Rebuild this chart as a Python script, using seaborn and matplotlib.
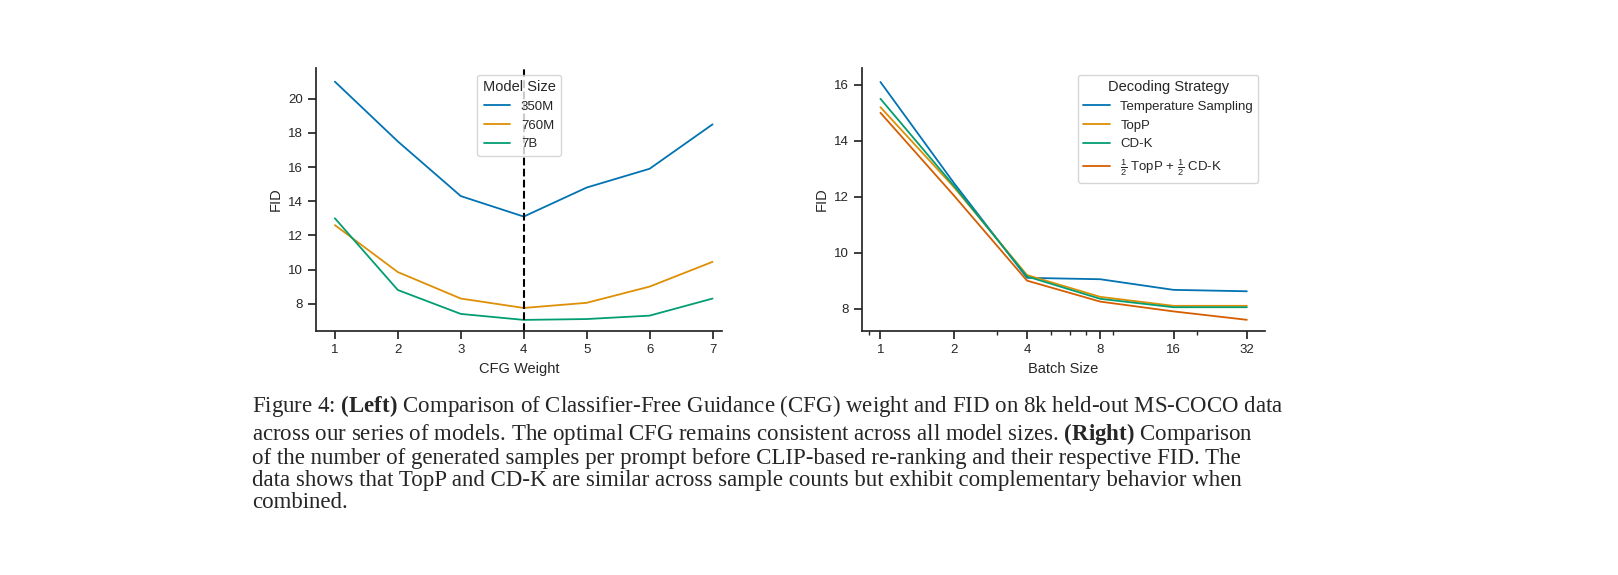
import pandas as pd
import seaborn as sns
import matplotlib.pyplot as plt
from matplotlib.ticker import ScalarFormatter, NullFormatter, FixedLocator

# left panel data
cfg_weight = [1, 2, 3, 4, 5, 6, 7]
fid_350m = [21.0, 17.5, 14.3, 13.1, 14.8, 15.9, 18.5]
fid_760m = [12.6, 9.85, 8.3, 7.75, 8.05, 9.0, 10.45]
fid_7b = [13.0, 8.8, 7.4, 7.05, 7.1, 7.3, 8.3]
model_sizes = ['350M', '760M', '7B']

# right panel data
batch_size = [1, 2, 4, 8, 16, 32]
fid_temp = [16.1, 12.5, 9.1, 9.05, 8.67, 8.62]
fid_topp = [15.2, 12.35, 9.2, 8.42, 8.1, 8.1]
fid_cdk = [15.5, 12.4, 9.15, 8.35, 8.05, 8.05]
fid_mix = [15.0, 12.05, 9.0, 8.25, 7.9, 7.6]
strategies = ['Temperature Sampling', 'TopP', 'CD-K',
              r'$\frac{1}{2}$ TopP + $\frac{1}{2}$ CD-K']
minor_batch = [0.9, 3, 5, 6, 7, 9, 20]

caption = (r"Figure 4: $\bf{(Left)}$ Comparison of Classifier-Free Guidance (CFG) weight and FID on 8k held-out MS-COCO data" "\n"
           r"across our series of models. The optimal CFG remains consistent across all model sizes. $\bf{(Right)}$ Comparison" "\n"
           "of the number of generated samples per prompt before CLIP-based re-ranking and their respective FID. The\n"
           "data shows that TopP and CD-K are similar across sample counts but exhibit complementary behavior when\n"
           "combined.")

sns.set_theme(style='ticks')
plt.rcParams['font.family'] = ['Liberation Sans', 'DejaVu Sans']
plt.rcParams['mathtext.fontset'] = 'custom'
plt.rcParams['mathtext.rm'] = 'Liberation Sans'
plt.rcParams['mathtext.bf'] = 'Liberation Serif:bold'
pal = sns.color_palette('colorblind')

df_left = pd.DataFrame({
    'CFG Weight': cfg_weight * 3,
    'FID': fid_350m + fid_760m + fid_7b,
    'Model Size': sum([[m] * len(cfg_weight) for m in model_sizes], []),
})
df_right = pd.DataFrame({
    'Batch Size': batch_size * 4,
    'FID': fid_temp + fid_topp + fid_cdk + fid_mix,
    'Decoding Strategy': sum([[s] * len(batch_size) for s in strategies], []),
})

fig = plt.figure(figsize=(16.18, 5.75), dpi=100)
ax1 = fig.add_axes([316 / 1618, 1 - 331 / 575, 406 / 1618, 263 / 575])
ax2 = fig.add_axes([862 / 1618, 1 - 331 / 575, 403 / 1618, 263 / 575])

sns.lineplot(data=df_left, x='CFG Weight', y='FID', hue='Model Size',
             palette=pal[:3], ax=ax1, linewidth=1.3)
ax1.axvline(4, color='black', linestyle='--', linewidth=1.5)
ax1.set_ylim(6.4, 21.8)
ax1.set_xlim(0.7, 7.15)
ax1.set_xticks(cfg_weight)
ax1.legend(title='Model Size', loc='upper center', fontsize=9.5, title_fontsize=10.5)

sns.lineplot(data=df_right, x='Batch Size', y='FID', hue='Decoding Strategy',
             palette=pal[:3] + [pal[3]], ax=ax2, linewidth=1.3)
ax2.set_xscale('log', base=2)
ax2.set_xlim(0.84, 38)
ax2.set_xticks(batch_size)
ax2.xaxis.set_major_formatter(ScalarFormatter())
ax2.xaxis.set_minor_locator(FixedLocator(minor_batch))
ax2.xaxis.set_minor_formatter(NullFormatter())
ax2.tick_params(axis='x', which='minor', length=3, width=1)
ax2.set_ylim(7.2, 16.6)
ax2.set_yticks([8, 10, 12, 14, 16])
ax2.legend(title='Decoding Strategy', loc='upper right', fontsize=9.5, title_fontsize=10.5)

for ax in (ax1, ax2):
    sns.despine(ax=ax)
    ax.tick_params(labelsize=9.5)
    ax.xaxis.label.set_size(10.5)
    ax.yaxis.label.set_size(10.5)

fig.text(252 / 1618, 1 - 393 / 575, caption, family='Liberation Serif',
         fontsize=16.5, va='top', ha='left', linespacing=1.08)

plt.savefig('out.png')
